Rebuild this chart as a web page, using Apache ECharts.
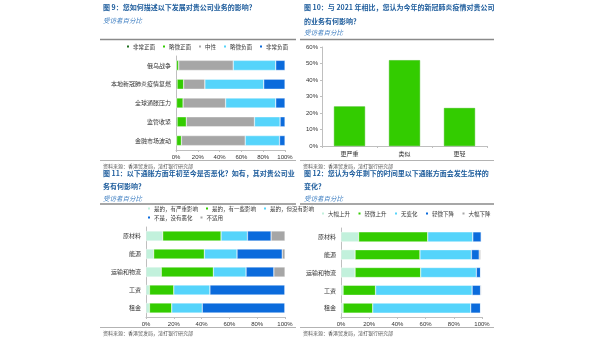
<!DOCTYPE html>
<html>
<head>
<meta charset="utf-8">
<script src="https://cdn.jsdelivr.net/npm/echarts@6/dist/echarts.min.js"></script>
<style>
html,body{margin:0;padding:0;background:#fff;}
#c{width:600px;height:340px;}
</style>
</head>
<body>
<div id="c"></div>
<script>
// ---------- DATA ----------
const fig9Categories = ['俄乌战争','本地新冠肺炎疫情复燃','全球通胀压力','监管收紧','金融市场波动'];
const fig9Names = ['非常正面','略微正面','中性','略微负面','非常负面'];
const fig9VeryPositive   = [0.5, 1, 0.5, 1, 0.5];
const fig9SlightPositive = [2, 6, 6, 8.5, 4.5];
const fig9Neutral        = [50, 19.5, 39, 62.5, 58.5];
const fig9SlightNegative = [39, 54, 46, 23.5, 31.5];
const fig9VeryNegative   = [8.5, 19.5, 8.5, 4.5, 5];

const fig10Categories = ['更严重','类似','更轻'];
const fig10Values = [24, 52, 23];

const fig11Categories = ['原材料','能源','运输和物流','工资','租金'];
const fig11Names = ['是的，有严重影响','是的，有一些影响','是的，但没有影响','不是，没有恶化','不适用'];
const fig11Severe   = [12, 5.5, 11, 2.5, 2.5];
const fig11Some     = [42, 36.5, 37.5, 17.5, 16];
const fig11NoImpact = [19, 23.5, 23.5, 26, 22];
const fig11NotWorse = [17, 32.5, 20, 54, 59.5];
const fig11NA       = [10, 2, 8, 0, 0];

const fig12Categories = ['原材料','能源','运输和物流','工资','租金'];
const fig12Names = ['大幅上升','轻微上升','无变化','轻微下降','大幅下降'];
const fig12SharpUp    = [12.5, 10, 10, 1.5, 1.5];
const fig12SlightUp   = [49, 46, 46.5, 23, 21];
const fig12NoChange   = [32, 36.5, 39.5, 68.5, 69.5];
const fig12SlightDown = [6, 5.5, 3, 6, 7];
const fig12SharpDown  = [0, 1, 0, 0.5, 0];

// ---------- STYLE ----------
const FONT = '"Liberation Sans", "Noto Sans CJK SC", sans-serif';
const CJK = '"Noto Sans CJK SC", sans-serif';
const titleColor = '#1d5c9c';
const subColor = '#3a7cc0';
const txt = '#333333';
const axisGray = '#bfbfbf';

const cDarkGreen = '#1f6e1f';
const cGreen = '#33cc00';
const cGray = '#a6a6a6';
const cCyan = '#55d4fb';
const cBlue = '#0b6bdc';
const cMint = '#c2f1dc';

function valueAxis(gi) {
  return {
    type: 'value', gridIndex: gi, min: 0, max: 100, interval: 20,
    axisLine: {show: true, lineStyle: {color: axisGray, width: 1}},
    axisTick: {show: true, length: 2, lineStyle: {color: axisGray}},
    splitLine: {show: false},
    axisLabel: {formatter: '{value}%', fontSize: 6, color: txt, fontFamily: FONT, margin: 4}
  };
}
function catAxis(gi, cats) {
  return {
    type: 'category', gridIndex: gi, data: cats, inverse: true,
    axisLine: {show: true, lineStyle: {color: axisGray, width: 1}},
    axisTick: {show: false},
    axisLabel: {fontSize: 6, color: txt, fontFamily: CJK, margin: 5}
  };
}
function stackSeries(name, data, color, gi, stack) {
  return {
    type: 'bar', name: name, data: data, stack: stack,
    xAxisIndex: gi, yAxisIndex: gi, barWidth: 10,
    itemStyle: {color: color, borderColor: '#ffffff', borderWidth: 0.4},
    emphasis: {disabled: true}, animation: false
  };
}
function legendCfg(data, left, centerY, gap) {
  return {
    data: data, left: left, top: centerY - 3.5, icon: 'rect',
    itemWidth: 4, itemHeight: 4, itemGap: gap, padding: 0,
    textStyle: {fontSize: 5.5, color: txt, fontFamily: CJK, padding: [0,0,0,-2]},
    selectedMode: false
  };
}
function text(x, y, s, font, color) {
  return {type: 'text', x: x, y: y, silent: true,
    style: {text: s, font: font, fill: color, verticalAlign: 'middle', align: 'left'}};
}
function rule(x1, x2, y, w, c) {
  return {type: 'line', silent: true, shape: {x1: x1, y1: y, x2: x2, y2: y},
    style: {stroke: c, lineWidth: w}};
}

const titleFont = 'bold 7px ' + CJK;
const subFont = 'italic 6.5px ' + CJK;
const srcFont = '5px ' + CJK;
const src = '资料来源：香港贸发局，渣打银行研究部';

const option = {
  backgroundColor: '#ffffff',
  animation: false,
  grid: [
    {left: 176, width: 109, top: 56, height: 94},
    {left: 322, width: 165, top: 47, height: 99},
    {left: 146, width: 139, top: 227, height: 90},
    {left: 341, width: 141, top: 228, height: 89}
  ],
  xAxis: [
    valueAxis(0),
    {
      type: 'category', gridIndex: 1, data: fig10Categories,
      axisLine: {show: true, lineStyle: {color: axisGray}},
      axisTick: {show: true, length: 2, lineStyle: {color: axisGray}},
      axisLabel: {fontSize: 6, color: txt, fontFamily: CJK, margin: 5}
    },
    valueAxis(2),
    valueAxis(3)
  ],
  yAxis: [
    catAxis(0, fig9Categories),
    {
      type: 'value', gridIndex: 1, min: 0, max: 60, interval: 10,
      axisLine: {show: true, lineStyle: {color: axisGray}},
      axisTick: {show: true, length: 2, lineStyle: {color: axisGray}},
      splitLine: {show: false},
      axisLabel: {formatter: '{value}%', fontSize: 6, color: txt, fontFamily: FONT, margin: 4}
    },
    catAxis(2, fig11Categories),
    catAxis(3, fig12Categories)
  ],
  legend: [
    legendCfg(fig9Names, 125, 47, 6),
    legendCfg(fig11Names.slice(0, 3), 146, 209, 6),
    legendCfg(fig11Names.slice(3), 146, 218, 6),
    legendCfg(fig12Names, 320, 214, 6.5)
  ],
  series: [
    stackSeries(fig9Names[0], fig9VeryPositive, cDarkGreen, 0, 'f9'),
    stackSeries(fig9Names[1], fig9SlightPositive, cGreen, 0, 'f9'),
    stackSeries(fig9Names[2], fig9Neutral, cGray, 0, 'f9'),
    stackSeries(fig9Names[3], fig9SlightNegative, cCyan, 0, 'f9'),
    stackSeries(fig9Names[4], fig9VeryNegative, cBlue, 0, 'f9'),
    {
      type: 'bar', name: 'fig10', data: fig10Values, xAxisIndex: 1, yAxisIndex: 1,
      barWidth: 31, itemStyle: {color: cGreen, borderColor: '#2db800', borderWidth: 0.5},
      emphasis: {disabled: true}
    },
    stackSeries(fig11Names[0], fig11Severe, cMint, 2, 'f11'),
    stackSeries(fig11Names[1], fig11Some, cGreen, 2, 'f11'),
    stackSeries(fig11Names[2], fig11NoImpact, cCyan, 2, 'f11'),
    stackSeries(fig11Names[3], fig11NotWorse, cBlue, 2, 'f11'),
    stackSeries(fig11Names[4], fig11NA, cGray, 2, 'f11'),
    stackSeries(fig12Names[0], fig12SharpUp, cMint, 3, 'f12'),
    stackSeries(fig12Names[1], fig12SlightUp, cGreen, 3, 'f12'),
    stackSeries(fig12Names[2], fig12NoChange, cCyan, 3, 'f12'),
    stackSeries(fig12Names[3], fig12SlightDown, cBlue, 3, 'f12'),
    stackSeries(fig12Names[4], fig12SharpDown, cGray, 3, 'f12')
  ],
  graphic: [
    // Fig 9
    text(103, 7, '图 9：您如何描述以下发展对贵公司业务的影响？', titleFont, titleColor),
    text(103, 21, '受访者百分比', subFont, subColor),
    rule(100, 296, 39.5, 1.6, '#8a8a8a'),
    rule(100, 296, 160.5, 0.8, '#a0a0a0'),
    text(103, 166, src, srcFont, '#555'),
    // Fig 10
    text(304, 7, '图 10：与 2021 年相比，您认为今年的新冠肺炎疫情对贵公司', titleFont, titleColor),
    text(304, 21.5, '的业务有何影响？', titleFont, titleColor),
    text(304, 33, '受访者百分比', subFont, subColor),
    rule(300, 494, 39.5, 1.6, '#8a8a8a'),
    rule(300, 494, 160.5, 0.8, '#a0a0a0'),
    text(303, 166, src, srcFont, '#555'),
    // Fig 11
    text(103, 173, '图 11：以下通胀方面年初至今是否恶化？如有，其对贵公司业', titleFont, titleColor),
    text(103, 186, '务有何影响？', titleFont, titleColor),
    text(103, 198.5, '受访者百分比', subFont, subColor),
    rule(100, 296, 204, 1.6, '#8a8a8a'),
    rule(100, 296, 327.5, 0.8, '#a0a0a0'),
    text(103, 333, src, srcFont, '#555'),
    // Fig 12
    text(304, 173, '图 12：您认为今年剩下的时间里以下通胀方面会发生怎样的', titleFont, titleColor),
    text(304, 186, '变化？', titleFont, titleColor),
    text(304, 198.5, '受访者百分比', subFont, subColor),
    rule(300, 494, 204, 1.6, '#8a8a8a'),
    rule(300, 494, 327.5, 0.8, '#a0a0a0'),
    text(303, 333, src, srcFont, '#555')
  ]
};

const chart = echarts.init(document.getElementById('c'), null, {renderer: 'canvas'});
chart.setOption(option);
</script>
</body>
</html>
